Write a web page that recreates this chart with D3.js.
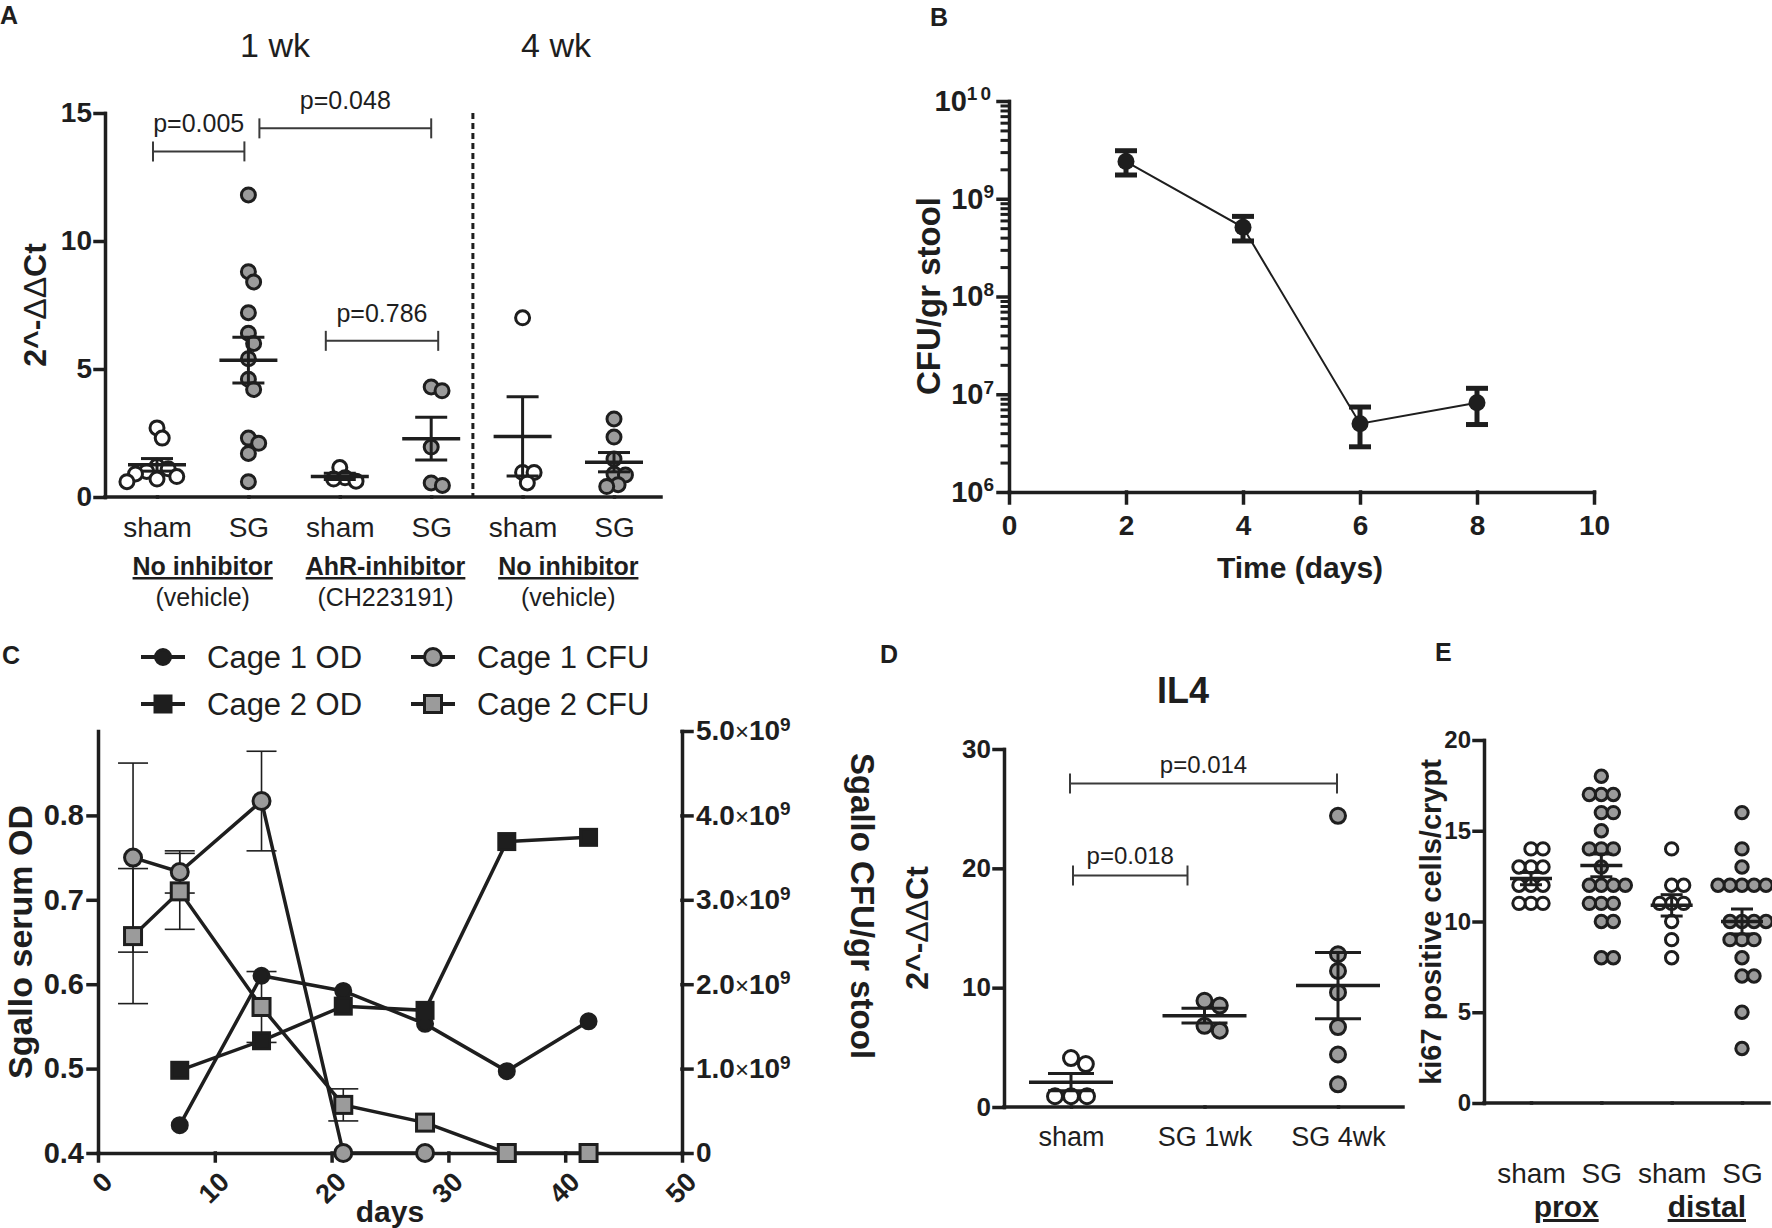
<!DOCTYPE html>
<html>
<head>
<meta charset="utf-8">
<title>Figure</title>
<style>
  body { margin: 0; background: #fff; }
  text { font-family: "Liberation Sans", Arial, sans-serif; fill: #1e1e1e; }
</style>
</head>
<body>
<script src="https://cdn.jsdelivr.net/npm/d3@7"></script>
<script>
// ---------- data ----------
// A: 2^-ddCt, 1 wk and 4 wk
var catsA = ['sham', 'SG', 'sham', 'SG', 'sham', 'SG'];
var groupsA = ['No inhibitor', 'AhR-inhibitor', 'No inhibitor'];
var subsA = ['(vehicle)', '(CH223191)', '(vehicle)'];
var shamA1 = [2.7, 2.3, 1.2, 1.1, 1.0, 0.9, 0.8, 0.7, 0.6];
var sgA1 = [11.8, 8.8, 8.4, 7.2, 6.4, 6.0, 5.4, 4.6, 4.2, 2.3, 2.1, 1.7, 0.6];
var shamA2 = [1.15, 0.75, 0.7, 0.62];
var sgA2 = [4.3, 4.15, 1.95, 0.55, 0.45];
var shamA3 = [7.0, 0.96, 0.96, 0.55];
var sgA3 = [3.05, 2.34, 1.48, 0.9, 0.86, 0.48, 0.41];
var pA = ['p=0.005', 'p=0.048', 'p=0.786'];
var pA_from = [0, 1, 2], pA_to = [1, 3, 3], pA_y = [13.5, 14.4, 6.1];

// B: CFU/gr stool
var daysB = [2, 4, 6, 8];
var cfuB = [2.4e9, 5.1e8, 5.0e6, 8.2e6];
var lowB = [1.75e9, 3.7e8, 2.9e6, 4.9e6];
var highB = [3.1e9, 6.6e8, 7.4e6, 1.15e7];

// C: serum OD and CFU by cage
var daysOD = [7, 14, 21, 28, 35, 42];
var cage1OD = [0.433, 0.610, 0.592, 0.553, 0.497, 0.556];
var cage2OD = [0.498, 0.533, 0.574, 0.569, 0.769, 0.774];
var daysCFU1 = [3, 7, 14, 21, 28];
var cage1CFU = [3.50e9, 3.33e9, 4.17e9, 0, 0];
var cage1Err = [1.12e9, 0.25e9, 0.59e9, 0, 0];
var daysCFU2 = [3, 7, 14, 21, 28, 35, 42];
var cage2CFU = [2.57e9, 3.10e9, 1.73e9, 0.57e9, 0.36e9, 0, 0];
var cage2Err = [0.80e9, 0.45e9, 0.42e9, 0.19e9, 0, 0, 0];

// D: IL4
var catsD = ['sham', 'SG 1wk', 'SG 4wk'];
var shamD = [4.1, 3.6, 0.9, 0.9, 0.9];
var sg1D = [8.9, 8.5, 6.8, 6.4];
var sg4D = [24.4, 12.8, 11.4, 9.6, 6.7, 4.4, 1.9];
var pD = ['p=0.014', 'p=0.018'];
var pD_from = [0, 0], pD_to = [2, 1], pD_y = [27.1, 19.4];

// E: ki67 positive cells/crypt
var catsE = ['sham', 'SG', 'sham', 'SG'];
var groupsE = ['prox', 'distal'];
var shamProx = [14, 14, 13, 13, 13, 12, 12, 12, 11, 11, 11];
var sgProx = [18, 17, 17, 17, 16, 16, 15, 14, 14, 14, 13, 12, 12, 12, 12, 11, 11, 11, 10, 10, 8, 8];
var shamDist = [14, 12, 12, 11, 11, 11, 10, 9, 8];
var sgDist = [16, 14, 13, 12, 12, 12, 12, 12, 10, 10, 10, 10, 9, 9, 9, 8, 7, 7, 5, 3];

// ---------- drawing ----------
var INK = '#1e1e1e', GREY = '#9b9b9b';
var svg = d3.select('body').append('svg').attr('width', 1772).attr('height', 1228);

function inkAxis(g, w) {
  g.selectAll('path, line').attr('stroke', INK).attr('stroke-width', w).attr('stroke-linecap', 'square');
  g.selectAll('text').attr('fill', INK);
}

function label(x, y, txt, size, weight, anchor) {
  return svg.append('text').attr('x', x).attr('y', y).attr('font-size', size)
    .attr('font-weight', weight || 'normal').attr('text-anchor', anchor || 'middle').text(txt);
}

// 2^-ddCt title with thin deltas
function ddctTitle(x, y) {
  var t = svg.append('text').attr('transform', 'translate(' + x + ',' + y + ') rotate(-90)')
    .attr('text-anchor', 'middle').attr('font-size', 32).attr('font-weight', 'bold');
  t.append('tspan').text('2^-');
  t.append('tspan').attr('font-weight', 'normal').text('\u0394\u0394');
  t.append('tspan').text('Ct');
}

// simple beeswarm: nearest free horizontal offset
function swarm(vals, y, minD) {
  var pts = vals.map(function(v) { return { v: v, py: y(v), dx: 0 }; })
    .sort(function(a, b) { return a.py - b.py; });
  var placed = [];
  pts.forEach(function(p) {
    var near = placed.filter(function(q) { return Math.abs(q.py - p.py) < minD; });
    var cands = [0];
    near.forEach(function(q) {
      var h = Math.sqrt(minD * minD - (q.py - p.py) * (q.py - p.py));
      cands.push(q.dx + h, q.dx - h);
    });
    cands.sort(function(a, b) { return Math.abs(a) - Math.abs(b); });
    var ok = cands.find(function(c) {
      return near.every(function(q) { return (c - q.dx) * (c - q.dx) + (p.py - q.py) * (p.py - q.py) >= minD * minD - 0.5; });
    });
    p.dx = ok === undefined ? cands[cands.length - 1] : ok;
    placed.push(p);
  });
  return pts;
}

// scatter dot plot with mean +/- SEM
function dotPanel(o) {
  var g = svg.append('g');
  var x = d3.scalePoint().domain(d3.range(o.cats.length)).range([o.c0, o.c1]);
  var y = d3.scaleLinear().domain(o.domain).range([o.yb, o.yt]);
  var ya = g.append('g').attr('transform', 'translate(' + o.x0 + ',0)')
    .call(d3.axisLeft(y).tickValues(o.ticks).tickSize(10).tickSizeOuter(0).tickPadding(3));
  ya.selectAll('text').attr('font-size', o.tickSize).attr('font-weight', 'bold');
  inkAxis(ya, 3.5);
  var xa = g.append('g').attr('transform', 'translate(0,' + o.yb + ')')
    .call(d3.axisBottom(x).tickSize(0).tickSizeOuter(0).tickPadding(o.catPad)
      .tickFormat(function(i) { return o.cats[i]; }));
  xa.select('.domain').remove();
  xa.selectAll('text').attr('font-size', o.catSize);
  inkAxis(xa, 3.5);
  g.append('line').attr('x1', o.x0).attr('x2', o.x1).attr('y1', o.yb).attr('y2', o.yb)
    .attr('stroke', INK).attr('stroke-width', 3.5).attr('stroke-linecap', 'square');
  o.vals.forEach(function(vals, i) {
    var c = x(i);
    g.append('g').selectAll('circle').data(swarm(vals, y, o.minD)).join('circle')
      .attr('cx', function(p) { return c + p.dx; })
      .attr('cy', function(p) { return p.py; })
      .attr('r', o.r).attr('fill', o.fills[i]).attr('stroke', INK).attr('stroke-width', 3);
    var m = d3.mean(vals), se = d3.deviation(vals) / Math.sqrt(vals.length);
    var eb = g.append('g').attr('stroke', INK).attr('stroke-width', 3.5);
    eb.append('line').attr('x1', c - o.meanHalf).attr('x2', c + o.meanHalf).attr('y1', y(m)).attr('y2', y(m));
    eb.append('line').attr('x1', c).attr('x2', c).attr('y1', y(m + se)).attr('y2', y(m - se)).attr('stroke-width', 3);
    [m + se, m - se].forEach(function(v) {
      eb.append('line').attr('x1', c - o.capHalf).attr('x2', c + o.capHalf).attr('y1', y(v)).attr('y2', y(v)).attr('stroke-width', 3);
    });
  });
  return { g: g, x: x, y: y };
}

function bracket(g, xa, xb, yy, txt, gap, size) {
  var b = g.append('g').attr('stroke', '#3a3a3a').attr('stroke-width', 2);
  b.append('line').attr('x1', xa).attr('x2', xb).attr('y1', yy).attr('y2', yy);
  [xa, xb].forEach(function(xx) {
    b.append('line').attr('x1', xx).attr('x2', xx).attr('y1', yy - 10).attr('y2', yy + 10);
  });
  g.append('text').attr('x', (xa + xb) / 2).attr('y', yy - gap).attr('text-anchor', 'middle')
    .attr('font-size', size).text(txt);
}

// ===== Panel A =====
label(0, 24, 'A', 25, 'bold', 'start');
var A = dotPanel({
  cats: catsA, vals: [shamA1, sgA1, shamA2, sgA2, shamA3, sgA3],
  fills: ['#fff', GREY, '#fff', GREY, '#fff', GREY],
  x0: 105, x1: 661, c0: 157, c1: 614, yb: 497, yt: 113, domain: [0, 15], ticks: [0, 5, 10, 15],
  r: 7, minD: 11.5, meanHalf: 29, capHalf: 16, catPad: 20, catSize: 28, tickSize: 28
});
var nudgeA = [[-4, -4], [11, 0], [-14, 7]];
pA.forEach(function(t, i) {
  bracket(A.g, A.x(pA_from[i]) + nudgeA[i][0], A.x(pA_to[i]) + nudgeA[i][1], A.y(pA_y[i]), t, 19, 25);
});
var divA = (A.x(3) + A.x(4)) / 2 - 4;
A.g.append('line').attr('x1', divA).attr('x2', divA).attr('y1', A.y(15)).attr('y2', A.y(0))
  .attr('stroke', INK).attr('stroke-width', 3).attr('stroke-dasharray', '6,4');
label(275, 57, '1 wk', 34);
label(556, 57, '4 wk', 34);
groupsA.forEach(function(t, i) {
  var gx = (A.x(2 * i) + A.x(2 * i + 1)) / 2;
  label(gx, 575, t, 25, 'bold').style('text-decoration', 'underline');
  label(gx, 606, subsA[i], 25);
});
ddctTitle(46, 305);

// ===== Panel B =====
label(930, 26, 'B', 25, 'bold', 'start');
var gB = svg.append('g');
var xB = d3.scaleLinear().domain([0, 10]).range([1009, 1594]);
var yB = d3.scaleLog().domain([1e6, 1e10]).range([492, 101]);
var majorB = [1e6, 1e7, 1e8, 1e9, 1e10];
var minorB = [];
[6, 7, 8, 9].forEach(function(k) { d3.range(2, 10).forEach(function(m) { minorB.push(m * Math.pow(10, k)); }); });
var mB = gB.append('g').attr('transform', 'translate(1009,0)')
  .call(d3.axisLeft(yB).tickValues(minorB).tickSize(7).tickFormat(''));
mB.select('.domain').remove();
inkAxis(mB, 3);
var yaB = gB.append('g').attr('transform', 'translate(1009,0)')
  .call(d3.axisLeft(yB).tickValues(majorB).tickSize(11).tickSizeOuter(0).tickPadding(4).tickFormat(''));
yaB.selectAll('.tick text').each(function(d) {
  var t = d3.select(this).attr('font-size', 29).attr('font-weight', 'bold');
  var e = Math.round(Math.log10(d));
  t.append('tspan').text('10');
  t.append('tspan').attr('dy', '-0.55em').attr('font-size', 19)
    .attr('letter-spacing', e > 9 ? 3 : 0).text(e);
});
inkAxis(yaB, 3.5);
var xaB = gB.append('g').attr('transform', 'translate(0,492)')
  .call(d3.axisBottom(xB).tickValues(d3.range(0, 11, 2)).tickSize(11).tickSizeOuter(0).tickPadding(12));
xaB.selectAll('text').attr('font-size', 28).attr('font-weight', 'bold');
inkAxis(xaB, 3.5);
gB.append('path').datum(daysB.map(function(d, i) { return [xB(d), yB(cfuB[i])]; }))
  .attr('d', d3.line()).attr('fill', 'none').attr('stroke', INK).attr('stroke-width', 2);
var ebB = gB.append('g').attr('stroke', INK).attr('stroke-width', 5);
daysB.forEach(function(d, i) {
  var xx = xB(d);
  ebB.append('line').attr('x1', xx).attr('x2', xx).attr('y1', yB(highB[i])).attr('y2', yB(lowB[i]));
  [highB[i], lowB[i]].forEach(function(v) {
    ebB.append('line').attr('x1', xx - 11).attr('x2', xx + 11).attr('y1', yB(v)).attr('y2', yB(v));
  });
});
gB.selectAll('circle.pt').data(daysB).join('circle')
  .attr('cx', function(d) { return xB(d); }).attr('cy', function(d, i) { return yB(cfuB[i]); })
  .attr('r', 8.5).attr('fill', INK);
label(1300, 578, 'Time (days)', 30, 'bold');
svg.append('text').attr('transform', 'translate(940,296) rotate(-90)').attr('text-anchor', 'middle')
  .attr('font-size', 33).attr('font-weight', 'bold').text('CFU/gr stool');

// ===== Panel C =====
label(2, 664, 'C', 25, 'bold', 'start');
var gC = svg.append('g');
var cTop = 731, cBot = 1153;
var xC = d3.scaleLinear().domain([0, 50]).range([98, 682]);
var yOD = d3.scaleLinear().domain([0.4, 0.9]).range([cBot, cTop]);
var yCFU = d3.scaleLinear().domain([0, 5e9]).range([cBot, cTop]);
var yaC = gC.append('g').attr('transform', 'translate(98,0)')
  .call(d3.axisLeft(yOD).tickValues([0.4, 0.5, 0.6, 0.7, 0.8]).tickFormat(d3.format('.1f'))
    .tickSize(10).tickSizeOuter(0).tickPadding(4));
yaC.selectAll('text').attr('font-size', 29).attr('font-weight', 'bold');
inkAxis(yaC, 3.5);
var yrC = gC.append('g').attr('transform', 'translate(682,0)')
  .call(d3.axisRight(yCFU).tickValues(d3.range(0, 5.1e9, 1e9)).tickFormat('')
    .tickSize(10).tickSizeOuter(0).tickPadding(4));
yrC.selectAll('.tick text').each(function(d) {
  var t = d3.select(this).attr('font-size', 28).attr('font-weight', 'bold');
  if (d === 0) { t.text('0'); return; }
  t.append('tspan').text((d / 1e9).toFixed(1));
  t.append('tspan').attr('font-weight', 'normal').attr('font-size', 24).text('\u00d7');
  t.append('tspan').text('10');
  t.append('tspan').attr('dy', '-0.5em').attr('font-size', 19).text('9');
});
inkAxis(yrC, 3.5);
var xaC = gC.append('g').attr('transform', 'translate(0,' + cBot + ')')
  .call(d3.axisBottom(xC).tickValues(d3.range(0, 51, 10)).tickSize(8).tickSizeOuter(0));
xaC.selectAll('text').attr('font-size', 27).attr('font-weight', 'bold')
  .attr('text-anchor', 'end').attr('x', 0).attr('y', 0).attr('dy', '0.35em')
  .attr('transform', 'translate(9,24) rotate(-45)');
inkAxis(xaC, 3.5);

var seriesC = [
  { name: 'Cage 1 OD', x: daysOD, v: cage1OD, e: null, y: yOD, shape: 'circle', fill: INK },
  { name: 'Cage 2 OD', x: daysOD, v: cage2OD, e: null, y: yOD, shape: 'square', fill: INK },
  { name: 'Cage 1 CFU', x: daysCFU1, v: cage1CFU, e: cage1Err, y: yCFU, shape: 'circle', fill: GREY },
  { name: 'Cage 2 CFU', x: daysCFU2, v: cage2CFU, e: cage2Err, y: yCFU, shape: 'square', fill: GREY }
];
var ebC = gC.append('g').attr('stroke', INK).attr('stroke-width', 1.6);
seriesC.forEach(function(s) {
  if (!s.e) return;
  s.x.forEach(function(d, i) {
    if (!s.e[i]) return;
    var xx = xC(d), hi = s.y(s.v[i] + s.e[i]), lo = s.y(s.v[i] - s.e[i]);
    ebC.append('line').attr('x1', xx).attr('x2', xx).attr('y1', hi).attr('y2', lo);
    [hi, lo].forEach(function(yy) {
      ebC.append('line').attr('x1', xx - 15).attr('x2', xx + 15).attr('y1', yy).attr('y2', yy);
    });
  });
});
seriesC.forEach(function(s) {
  gC.append('path').datum(s.x.map(function(d, i) { return [xC(d), s.y(s.v[i])]; }))
    .attr('d', d3.line()).attr('fill', 'none').attr('stroke', INK).attr('stroke-width', 3.5);
});
function marker(g, shape, fill, xx, yy) {
  if (shape === 'circle') {
    g.append('circle').attr('cx', xx).attr('cy', yy).attr('r', fill === INK ? 7.5 : 8.5)
      .attr('fill', fill).attr('stroke', INK).attr('stroke-width', 3);
  } else {
    var h = fill === INK ? 8 : 8.5;
    g.append('rect').attr('x', xx - h).attr('y', yy - h).attr('width', 2 * h).attr('height', 2 * h)
      .attr('fill', fill).attr('stroke', INK).attr('stroke-width', 3);
  }
}
seriesC.forEach(function(s) {
  s.x.forEach(function(d, i) { marker(gC, s.shape, s.fill, xC(d), s.y(s.v[i])); });
});
// legend
var legPos = [[141, 657], [141, 704], [411, 657], [411, 704]];
seriesC.forEach(function(s, i) {
  var lx = legPos[i][0], ly = legPos[i][1];
  gC.append('line').attr('x1', lx).attr('x2', lx + 44).attr('y1', ly).attr('y2', ly)
    .attr('stroke', INK).attr('stroke-width', 4);
  marker(gC, s.shape, s.fill, lx + 22, ly);
  gC.append('text').attr('x', lx + 66).attr('y', ly).attr('dy', '0.36em').attr('font-size', 31).text(s.name);
});
label(390, 1222, 'days', 30, 'bold');
svg.append('text').attr('transform', 'translate(32,' + (cTop + cBot) / 2 + ') rotate(-90)')
  .attr('text-anchor', 'middle').attr('font-size', 34).attr('font-weight', 'bold').text('Sgallo serum OD');
svg.append('text').attr('transform', 'translate(851,906) rotate(90)')
  .attr('text-anchor', 'middle').attr('font-size', 33).attr('font-weight', 'bold').text('Sgallo CFU/gr stool');

// ===== Panel D =====
label(880, 663, 'D', 25, 'bold', 'start');
label(1183, 703, 'IL4', 36, 'bold');
var D = dotPanel({
  cats: catsD, vals: [shamD, sg1D, sg4D], fills: ['#fff', GREY, GREY],
  x0: 1004, x1: 1403, c0: 1071, c1: 1338, yb: 1107, yt: 749, domain: [0, 30], ticks: [0, 10, 20, 30],
  r: 7.5, minD: 16, meanHalf: 42, capHalf: 23, catPad: 20, catSize: 27, tickSize: 26
});
var nudgeD = [[-1, -1], [2, -17]];
pD.forEach(function(t, i) {
  bracket(D.g, D.x(pD_from[i]) + nudgeD[i][0], D.x(pD_to[i]) + nudgeD[i][1], D.y(pD_y[i]), t, 11, 24);
});
ddctTitle(928, 928);

// ===== Panel E =====
label(1435, 661, 'E', 25, 'bold', 'start');
var E = dotPanel({
  cats: catsE, vals: [shamProx, sgProx, shamDist, sgDist], fills: ['#fff', GREY, '#fff', GREY],
  x0: 1484, x1: 1769, c0: 1531, c1: 1742, yb: 1103, yt: 740, domain: [0, 20], ticks: [0, 5, 10, 15, 20],
  r: 6.2, minD: 12, meanHalf: 21, capHalf: 11, catPad: 60, catSize: 28, tickSize: 24
});
groupsE.forEach(function(t, i) {
  label((E.x(2 * i) + E.x(2 * i + 1)) / 2, 1217, t, 30, 'bold').style('text-decoration', 'underline');
});
svg.append('text').attr('transform', 'translate(1441,922) rotate(-90)').attr('text-anchor', 'middle')
  .attr('font-size', 29).attr('font-weight', 'bold').text('ki67 positive cells/crypt');
</script>
</body>
</html>
